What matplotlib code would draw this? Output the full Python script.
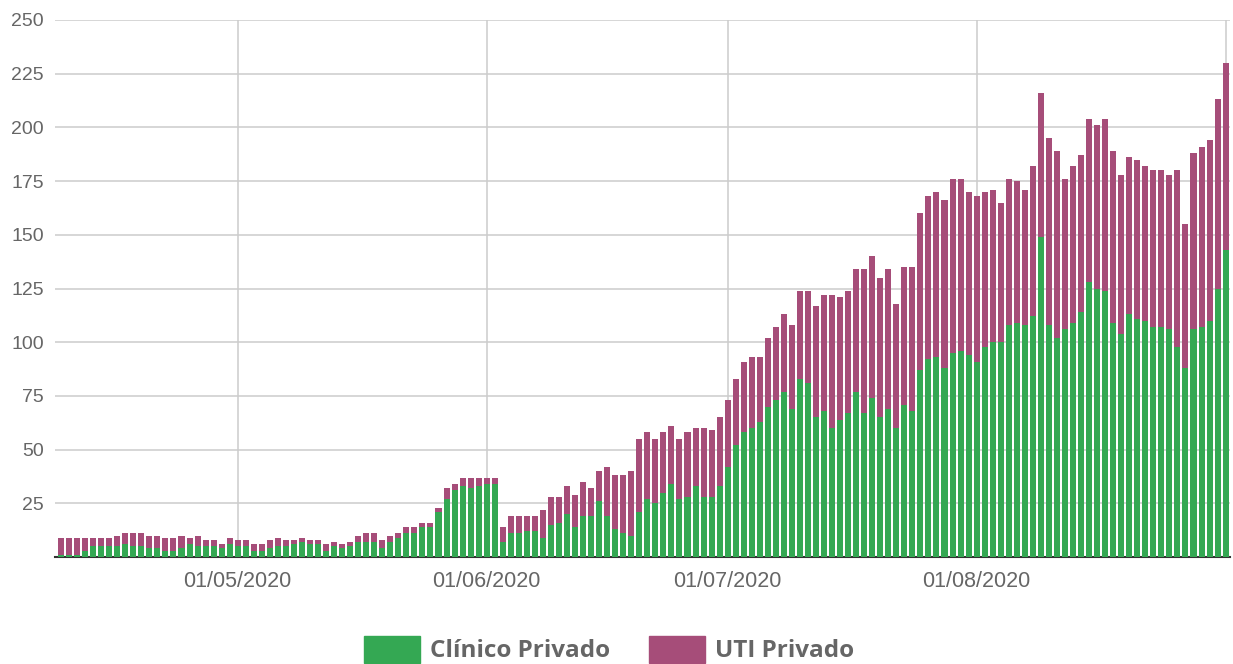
import numpy as np
import pandas as pd
import matplotlib
matplotlib.use('Agg')
import matplotlib.pyplot as plt
import matplotlib.dates as mdates
from matplotlib.patches import Patch

# Daily occupied private beds, 09/04/2020 to 01/09/2020
start_date = '2020-04-09'
end_date = '2020-09-01'

clinico_privado = [
    # April 9-30
    1, 1, 1, 3, 5, 5, 5, 5, 6, 5, 5, 4, 4, 3, 3, 4, 6, 5, 5, 5, 4, 6,
    # May
    5, 5, 3, 3, 4, 5, 5, 6, 7, 6, 6, 3, 5, 4, 5, 7, 7, 7, 4, 7, 9, 11, 11, 14, 14, 21, 27, 31, 33, 32, 33,
    # June
    34, 34, 7, 11, 11, 12, 12, 9, 15, 16, 20, 14, 19, 19, 26, 19, 13, 11, 10, 21, 27, 25, 30, 34, 27, 28, 33, 28, 28, 33,
    # July
    42, 52, 58, 60, 63, 70, 73, 77, 69, 83, 81, 65, 68, 60, 64, 67, 77, 67, 74, 65, 69, 60, 71, 68, 87, 92, 93, 88, 95, 96, 94,
    # August + Sep 1
    91, 98, 100, 100, 108, 109, 108, 112, 149, 108, 102, 106, 109, 114, 128, 125, 124, 109, 104, 113, 111, 110, 107, 107, 106, 98, 88, 106, 107, 110, 125,
    143,
]

uti_privado = [
    # April 9-30
    8, 8, 8, 6, 4, 4, 4, 5, 5, 6, 6, 6, 6, 6, 6, 6, 3, 5, 3, 3, 2, 3,
    # May
    3, 3, 3, 3, 4, 4, 3, 2, 2, 2, 2, 3, 2, 2, 2, 3, 4, 4, 4, 3, 2, 3, 3, 2, 2, 2, 5, 3, 4, 5, 4,
    # June
    3, 3, 7, 8, 8, 7, 7, 13, 13, 12, 13, 15, 16, 13, 14, 23, 25, 27, 30, 34, 31, 30, 28, 27, 28, 30, 27, 32, 31, 32,
    # July
    31, 31, 33, 33, 30, 32, 34, 36, 39, 41, 43, 52, 54, 62, 57, 57, 57, 67, 66, 65, 65, 58, 64, 67, 73, 76, 77, 78, 81, 80, 76,
    # August + Sep 1
    77, 72, 71, 65, 68, 66, 63, 70, 67, 87, 87, 70, 73, 73, 76, 76, 80, 80, 74, 73, 74, 72, 73, 73, 72, 82, 67, 82, 84, 84, 88,
    87,
]

month_ticks = ['2020-05-01', '2020-06-01', '2020-07-01', '2020-08-01', '2020-09-01']
month_labels = ['01/05/2020', '01/06/2020', '01/07/2020', '01/08/2020', '']
y_ticks = [25, 50, 75, 100, 125, 150, 175, 200, 225, 250]

green = '#34a853'
purple = '#a64d79'
text_grey = '#666666'
grid_grey = '#cccccc'

dates = pd.date_range(start_date, end_date, freq='D')

fig = plt.figure(figsize=(12.33, 6.64), dpi=100)
ax = fig.add_axes([0.0446, 0.1611, 0.9530, 0.8088])

# Stacked bars
ax.bar(dates, clinico_privado, width=0.75, color=green, zorder=3, label='Clínico Privado')
ax.bar(dates, uti_privado, bottom=clinico_privado, width=0.75, color=purple, zorder=3, label='UTI Privado')

# Axes limits and ticks
x0 = mdates.date2num(dates[0])
x1 = mdates.date2num(dates[-1])
ax.set_xlim(x0 - 0.75, x1 + 0.55)
ax.set_ylim(0, 250)

ax.set_yticks(y_ticks)
ax.set_yticklabels([str(v) for v in y_ticks], fontsize=14, color=text_grey, family='Liberation Sans')
ax.set_xticks(pd.to_datetime(month_ticks))
ax.set_xticklabels(month_labels, fontsize=15.5, color=text_grey, family='Liberation Sans')
ax.tick_params(axis='both', length=0)
ax.tick_params(axis='y', pad=8)
ax.tick_params(axis='x', pad=10)

# Grid and spines
ax.grid(True, color=grid_grey, linewidth=1.1, zorder=0)
ax.set_axisbelow(True)
for side in ['top', 'right', 'left']:
    ax.spines[side].set_visible(False)
ax.spines['bottom'].set_color('#333333')
ax.spines['bottom'].set_linewidth(1.5)
ax.spines['bottom'].set_zorder(2)

# Legend at the bottom
handles = [Patch(color=green, label='Clínico Privado'), Patch(color=purple, label='UTI Privado')]
fig.legend(
    handles=handles,
    loc='center',
    bbox_to_anchor=(0.494, 0.022),
    ncol=2,
    frameon=False,
    prop={'family': 'Open Sans', 'weight': 'bold', 'size': 17.5},
    labelcolor=text_grey,
    handlelength=2.3,
    handleheight=1.35,
    handletextpad=0.42,
    columnspacing=1.6,
    borderpad=0,
)

fig.savefig('out.png', dpi=100)
